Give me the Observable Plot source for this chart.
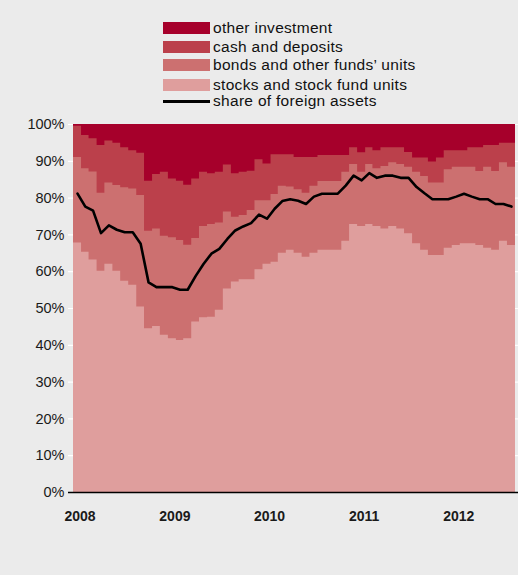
<!DOCTYPE html>
<html>
<head>
<meta charset="utf-8">
<script src="https://cdn.jsdelivr.net/npm/d3@7"></script>
<script src="https://cdn.jsdelivr.net/npm/@observablehq/plot@0.6"></script>
<style>
  html, body { margin: 0; padding: 0; background: #ebebeb; }
  body { width: 518px; height: 575px; overflow: hidden; font-family: "Liberation Sans", Arial, Helvetica, sans-serif; color: #111; }
  #legend { position: relative; height: 114px; }
  .item { position: absolute; left: 163px; height: 14px; display: flex; align-items: center; font-size: 15.5px; letter-spacing: 0.3px; }
  .sw { width: 47px; height: 12px; margin-right: 3px; }
  .ln { width: 47px; height: 3px; background: #000; margin-right: 3px; }
  svg { display: block; }
</style>
</head>
<body>
<div id="legend"></div>
<div id="chart"></div>
<script>
// Series names and colours
const seriesNames = ["other investment", "cash and deposits", "bonds and other funds’ units", "stocks and stock fund units"];
const seriesColors = ["#a6002b", "#bb404b", "#cc7070", "#df9e9d"];
const lineName = "share of foreign assets";

// Monthly, Jan 2008 – Aug 2012 (upper edge of each cumulative band, %)
const stocksTop = [
  67.8, 65.3, 63.2, 60.1, 62.0, 60.1, 57.4, 56.3, 50.4, 44.5, 45.1, 42.7,
  41.8, 41.3, 41.8, 46.3, 47.5, 47.6, 49.5, 55.3, 57.2, 57.8, 57.8, 60.5,
  62.0, 62.6, 65.0, 65.8, 65.0, 63.9, 65.0, 65.8, 65.8, 65.8, 68.3, 72.8,
  72.3, 72.8, 72.3, 71.6, 72.3, 71.6, 70.3, 67.6, 65.8, 64.4, 64.4, 66.4,
  67.1, 67.6, 67.6, 67.1, 66.4, 65.8, 68.3, 67.1
];
const bondsTop = [
  91.0, 88.0, 87.1, 81.3, 84.1, 83.4, 82.8, 82.5, 80.7, 71.0, 71.6, 69.6,
  69.2, 68.5, 67.2, 69.0, 72.3, 72.8, 73.2, 76.2, 74.8, 75.3, 76.6, 79.3,
  79.3, 81.0, 83.2, 83.0, 82.3, 81.3, 83.2, 84.5, 84.5, 84.5, 87.0, 89.1,
  87.0, 89.1, 88.0, 88.6, 89.6, 89.1, 88.4, 87.0, 85.9, 84.1, 84.1, 87.7,
  88.4, 88.4, 88.4, 87.2, 88.4, 87.2, 89.6, 88.4
];
const cashTop = [
  99.5, 97.0, 96.1, 94.3, 95.5, 94.9, 93.7, 92.9, 92.2, 84.6, 86.4, 87.0,
  85.2, 84.6, 83.5, 85.2, 87.0, 86.6, 87.0, 89.0, 86.6, 87.0, 87.3, 90.4,
  89.3, 91.8, 91.8, 91.8, 91.0, 91.0, 91.0, 91.6, 91.6, 91.6, 91.6, 93.7,
  92.3, 93.7, 92.9, 93.7, 93.7, 93.7, 92.4, 90.9, 90.9, 89.8, 90.9, 92.9,
  92.9, 92.9, 93.7, 93.7, 94.3, 94.3, 94.9, 94.9
];
const otherTop = 100;
const foreignShare = [
  81.2, 77.7, 76.6, 70.5, 72.6, 71.4, 70.7, 70.7, 67.6, 57.1, 55.8, 55.8,
  55.8, 55.1, 55.1, 58.8, 62.1, 64.9, 66.2, 68.9, 71.2, 72.3, 73.2, 75.5,
  74.4, 77.1, 79.2, 79.7, 79.3, 78.4, 80.4, 81.2, 81.2, 81.2, 83.4, 86.1,
  84.8, 86.8, 85.5, 86.1, 86.1, 85.5, 85.5, 83.0, 81.3, 79.7, 79.7, 79.7,
  80.4, 81.2, 80.4, 79.7, 79.7, 78.4, 78.4, 77.7
];
const startDate = new Date(Date.UTC(2008, 0, 1));
const endDate = new Date(Date.UTC(2012, 8, 1));
const yearTicks = ["2008", "2009", "2010", "2011", "2012"];
const yTicks = [0, 10, 20, 30, 40, 50, 60, 70, 80, 90, 100];

// ---- legend ----
const legend = document.getElementById("legend");
const tops = [22, 40.5, 59, 78.5];
seriesNames.forEach((n, i) => {
  const d = document.createElement("div");
  d.className = "item";
  d.style.top = (tops[i] - 1) + "px";
  d.innerHTML = `<span class="sw" style="background:${seriesColors[i]}"></span><span>${n}</span>`;
  legend.appendChild(d);
});
{
  const d = document.createElement("div");
  d.className = "item";
  d.style.top = "94px";
  d.innerHTML = `<span class="ln"></span><span>${lineName}</span>`;
  legend.appendChild(d);
}

// ---- data tables ----
const months = d3.utcMonth.range(startDate, endDate);
const rows = months.map((m, i) => ({date: m, other: otherTop, cash: cashTop[i], bonds: bondsTop[i], stocks: stocksTop[i]}));
// closing edge for the last monthly step
rows.push({...rows[rows.length - 1], date: endDate});
const lineRows = months.map((m, i) => ({date: new Date((+m + +d3.utcMonth.offset(m, 1)) / 2), v: foreignShare[i]}));
const keys = ["other", "cash", "bonds", "stocks"];

const plot = Plot.plot({
  width: 518,
  height: 440,
  marginLeft: 73,
  marginRight: 3,
  marginTop: 10,
  marginBottom: 62,
  style: {background: "transparent", color: "#1a1a1a", fontFamily: "'Liberation Sans', Arial, Helvetica, sans-serif"},
  x: {type: "utc", domain: [startDate, endDate]},
  y: {domain: [0, 100]},
  marks: [
    Plot.ruleY(yTicks, {stroke: "white", strokeWidth: 1.2, insetLeft: -5, insetRight: -3}),
    ...keys.map((k, i) => Plot.areaY(rows, {x: "date", y1: 0, y2: k, fill: seriesColors[i], curve: "step-after"})),
    Plot.line(lineRows, {x: "date", y: "v", stroke: "black", strokeWidth: 2.6, strokeLinejoin: "round"}),
    Plot.ruleY([0], {stroke: "black", strokeWidth: 1.5, insetLeft: -5, insetRight: -3}),
    Plot.axisY({ticks: yTicks, tickFormat: d => d + "%", tickSize: 0, tickPadding: 9, fontSize: 14.5}),
    Plot.axisX({ticks: yearTicks.map(y => new Date(Date.UTC(+y, 0, 1))), tickFormat: d => String(d.getUTCFullYear()), tickSize: 0, tickPadding: 19, dx: 6.5, fontSize: 14, fontWeight: "bold"})
  ]
});
document.getElementById("chart").appendChild(plot);
</script>
</body>
</html>
